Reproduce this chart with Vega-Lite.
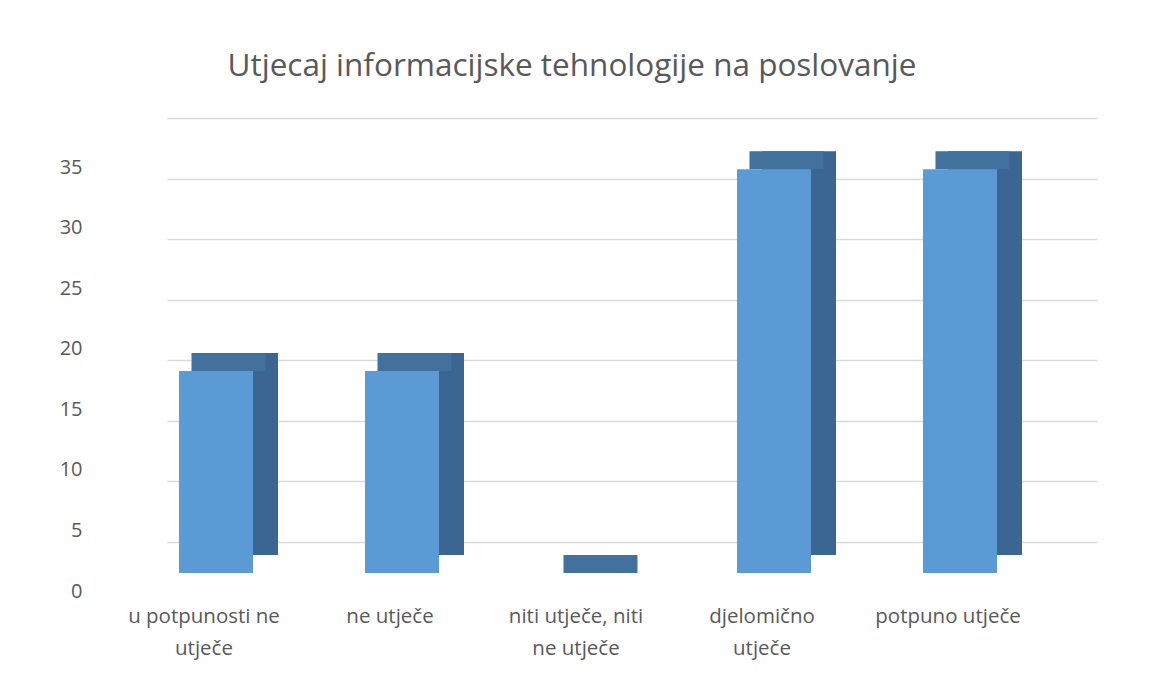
{
  "$schema": "https://vega.github.io/schema/vega-lite/v6.json",
  "width": 930,
  "height": 424,
  "autosize": "none",
  "padding": {"left": 167, "top": 118, "right": 52, "bottom": 137},
  "background": "white",
  "title": {
    "text": "Utjecaj informacijske tehnologije na poslovanje",
    "font": "Open Sans",
    "fontSize": 31.5,
    "fontWeight": "normal",
    "color": "#595959",
    "anchor": "middle",
    "dx": -60,
    "offset": 36
  },
  "data": {
    "values": [
      {"kategorija": "u potpunosti ne utječe", "vrijednost": 16.67},
      {"kategorija": "ne utječe", "vrijednost": 16.67},
      {"kategorija": "niti utječe, niti ne utječe", "vrijednost": 0},
      {"kategorija": "djelomično utječe", "vrijednost": 33.33},
      {"kategorija": "potpuno utječe", "vrijednost": 33.33}
    ]
  },
  "encoding": {
    "x": {
      "field": "kategorija",
      "type": "nominal",
      "sort": null,
      "title": null,
      "scale": {"paddingInner": 0, "paddingOuter": 0},
      "axis": {
        "labelAngle": 0,
        "ticks": false,
        "domain": false,
        "labelFont": "Open Sans",
        "labelFontSize": 20.5,
        "labelColor": "#595959",
        "labelPadding": 64,
        "labelOffset": -56,
        "labelLineHeight": 32,
        "labelBaseline": "top",
        "labelExpr": "datum.label == 'u potpunosti ne utječe' ? ['u potpunosti ne', 'utječe'] : datum.label == 'niti utječe, niti ne utječe' ? ['niti utječe, niti', 'ne utječe'] : datum.label == 'djelomično utječe' ? ['djelomično', 'utječe'] : datum.label"
      }
    },
    "y": {
      "field": "vrijednost",
      "type": "quantitative",
      "title": null,
      "scale": {"domain": [0, 35], "nice": false},
      "axis": {
        "values": [0, 5, 10, 15, 20, 25, 30, 35],
        "ticks": false,
        "domain": false,
        "grid": true,
        "gridColor": "#d9d9d9",
        "gridWidth": 1.5,
        "labelFont": "Open Sans",
        "labelFontSize": 20,
        "labelColor": "#595959",
        "labelPadding": 85,
        "labelOffset": 49
      }
    }
  },
  "layer": [
    {
      "mark": {"type": "bar", "width": 74, "color": "#3b6592", "opacity": 1, "xOffset": -19, "yOffset": 13}
    },
    {
      "mark": {"type": "tick", "size": 74, "thickness": 18, "color": "#41719c", "opacity": 1, "xOffset": -31.5, "yOffset": 22}
    },
    {
      "mark": {"type": "bar", "width": 74, "color": "#5b9bd5", "opacity": 1, "xOffset": -44, "yOffset": 31}
    }
  ],
  "config": {
    "view": {"stroke": null}
  }
}
